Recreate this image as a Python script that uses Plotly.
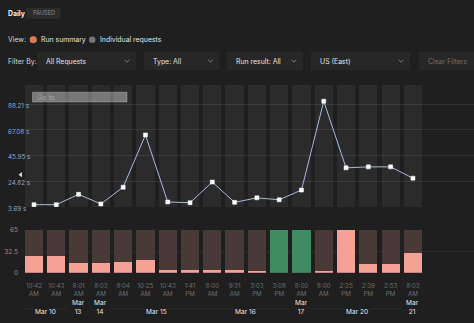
import plotly.graph_objects as go

W, H = 474, 323

# ---- data -------------------------------------------------------------
run_times = ["10:42 AM", "10:43 AM", "8:01 AM", "8:03 AM", "8:04 AM", "10:25 AM",
             "10:43 AM", "1:41 PM", "8:00 AM", "9:31 AM", "3:03 PM", "3:08 PM",
             "8:00 AM", "8:00 AM", "2:35 PM", "2:39 PM", "2:53 PM", "8:03 AM"]
run_dates = ["Mar 10", "Mar 10", "Mar 13", "Mar 14", "Mar 15", "Mar 15",
             "Mar 15", "Mar 15", "Mar 16", "Mar 16", "Mar 16", "Mar 16",
             "Mar 17", "Mar 20", "Mar 20", "Mar 20", "Mar 20", "Mar 21"]
duration_s = [5.5, 5.5, 14.0, 6.1, 19.9, 62.9, 7.7, 7.1, 24.1, 7.4, 11.1, 9.5,
              17.5, 90.6, 35.8, 36.6, 36.6, 27.3]
result_count = [25.7, 25.7, 14.8, 14.8, 15.8, 19.8, 5.0, 5.0, 5.0, 5.0, 2.5, 65,
                65, 2.5, 65, 13.3, 13.3, 29.5]
run_passed = [False] * 11 + [True, True] + [False] * 5
count_max = 65
duration_ticks = [3.69, 24.82, 45.95, 67.08, 88.21]
count_ticks = [0, 32.5, 65]

# ---- helpers ----------------------------------------------------------
def px(x):
    return x / W


def py(y):
    return 1 - y / H


FONT = "Inter, Noto Sans, sans-serif"
BG = "#1f1f1f"
idx = list(range(len(run_times)))

# x geometry: first column centred at 34px, 22.29px per column
col0, step = 34.0, 22.29
x_left_px = 22.0
xrange = [(x_left_px - col0) / step, (W - col0) / step]
dur_range = [3.3, 104.0]

fig = go.Figure()

# column backdrops in the duration panel
fig.add_trace(go.Bar(
    x=idx, y=[dur_range[1] - dur_range[0]] * len(idx), base=dur_range[0],
    width=0.82, marker=dict(color="rgba(255,255,255,0.055)", line_width=0),
    hoverinfo="skip", xaxis="x", yaxis="y", showlegend=False))

# duration line
fig.add_trace(go.Scatter(
    x=idx, y=duration_s, mode="lines+markers",
    line=dict(color="#a9bbdc", width=1),
    marker=dict(symbol="square", size=4, color="#ffffff",
                line=dict(color="#ffffff", width=0.5)),
    xaxis="x", yaxis="y", showlegend=False))

# result panel: full-height backdrop + value bars
fig.add_trace(go.Bar(
    x=idx, y=[count_max] * len(idx), width=0.82,
    marker=dict(color="#4a3a37", line_width=0),
    xaxis="x2", yaxis="y2", showlegend=False, hoverinfo="skip"))
fig.add_trace(go.Bar(
    x=idx, y=result_count, width=0.82,
    marker=dict(color=["#3f8c62" if p else "#f5a196" for p in run_passed],
                line_width=0),
    xaxis="x2", yaxis="y2", showlegend=False))

top_dom = [py(208.5), py(83)]
bot_dom = [py(275.7), py(231.7)]
xdom = [px(x_left_px), 1]

fig.update_layout(
    width=W, height=H, margin=dict(l=0, r=0, t=0, b=0),
    paper_bgcolor=BG, plot_bgcolor=BG, barmode="overlay", bargap=0,
    font=dict(family=FONT, color="#dddddd"),
    xaxis=dict(domain=xdom, range=xrange, showgrid=False, zeroline=False,
               showticklabels=False, anchor="y"),
    yaxis=dict(domain=top_dom, range=dur_range, tickvals=duration_ticks,
               showticklabels=False, gridcolor="#323232", gridwidth=1,
               zeroline=False, anchor="x"),
    xaxis2=dict(domain=xdom, range=xrange, showgrid=False, zeroline=False,
                anchor="y2", tickvals=idx,
                ticktext=[t.replace(" ", "<br>") for t in run_times],
                tickfont=dict(size=6.2, color="#6e6e6e", family=FONT),
                ticks="", ticklabelstandoff=8),
    yaxis2=dict(domain=bot_dom, range=[0, count_max], tickvals=count_ticks,
                ticktext=["0", "32.5", "65"], gridcolor="#2b2b2b",
                zeroline=False, anchor="x2", ticks="",
                tickfont=dict(size=6.5, color="#b98076", family=FONT),
                ticklabelstandoff=3),
)

shapes = []
ann = []

# duration tick labels, left aligned
for v in duration_ticks:
    ann.append(dict(x=px(6), y=v, xref="paper", yref="y", xanchor="left",
                    yanchor="middle", showarrow=False, yshift=-2,
                    text=f"{v:.2f} s",
                    font=dict(size=6.3, color="#8ea8d8", family=FONT)))

# date groups under the time labels
groups = []
for i, d in enumerate(run_dates):
    if groups and groups[-1][0] == d:
        groups[-1][1].append(i)
    else:
        groups.append((d, [i]))
for d, members in groups:
    lo, hi = members[0] - 0.5, members[-1] + 0.5
    mid = (members[0] + members[-1]) / 2
    if len(members) > 1:
        shapes.append(dict(type="line", xref="x2", yref="paper",
                           x0=lo, x1=hi, y0=py(312.5), y1=py(312.5),
                           line=dict(color="#2c2c2c", width=1)))
        label = d
    else:
        label = d.replace(" ", "<br>")
    ann.append(dict(x=mid, y=py(320.5), xref="x2", yref="paper",
                    xanchor="center", yanchor="bottom", showarrow=False,
                    text=label, bgcolor=BG, borderpad=0,
                    font=dict(size=6.6, color="#e6e6e6", family=FONT)))

# "Go to" box inside the duration panel
shapes.append(dict(type="rect", xref="paper", yref="paper",
                   x0=px(32.5), x1=px(127), y0=py(100.5), y1=py(90.5),
                   fillcolor="rgba(255,255,255,0.36)",
                   line=dict(color="rgba(255,255,255,0.45)", width=0.6)))
ann.append(dict(x=px(35), y=py(95.5), xref="paper", yref="paper",
                xanchor="left", yanchor="middle", showarrow=False, text="Go to",
                font=dict(size=7, color="#a8a8a8", family=FONT)))

# small pan arrow on the left
shapes.append(dict(type="path", xref="paper", yref="paper",
                   path=f"M {px(18.5)} {py(175)} L {px(22)} {py(172.3)} "
                        f"L {px(22)} {py(177.7)} Z",
                   fillcolor="#d8d8d8", line=dict(width=0)))

# ---- header controls --------------------------------------------------
HF = 6.9
ann.append(dict(x=px(6), y=py(9.5), xref="paper", yref="paper",
                xanchor="left", yanchor="middle", showarrow=False,
                text="<b>Daily</b>",
                font=dict(size=HF, color="#f0f0f0", family=FONT)))
shapes.append(dict(type="rect", xref="paper", yref="paper",
                   x0=px(26.5), x1=px(60.5), y0=py(15), y1=py(4),
                   fillcolor="#2c2c2c", line=dict(width=0)))
ann.append(dict(x=px(43.5), y=py(9.5), xref="paper", yref="paper",
                xanchor="center", yanchor="middle", showarrow=False,
                text="PAUSED",
                font=dict(size=5.6, color="#8c8c8c", family=FONT)))

ann.append(dict(x=px(6), y=py(36.5), xref="paper", yref="paper",
                xanchor="left", yanchor="middle", showarrow=False,
                text="View:", font=dict(size=HF, color="#d8d8d8", family=FONT)))
shapes.append(dict(type="circle", xref="paper", yref="paper",
                   x0=px(30), x1=px(36.5), y0=py(39.8), y1=py(33.3),
                   fillcolor="#e07a4f", line=dict(color="#f09a70", width=0.6)))
ann.append(dict(x=px(38.5), y=py(36.5), xref="paper", yref="paper",
                xanchor="left", yanchor="middle", showarrow=False,
                text="Run summary",
                font=dict(size=HF, color="#e4e4e4", family=FONT)))
shapes.append(dict(type="circle", xref="paper", yref="paper",
                   x0=px(89), x1=px(95.5), y0=py(39.8), y1=py(33.3),
                   fillcolor="#777777", line=dict(width=0)))
ann.append(dict(x=px(97.5), y=py(36.5), xref="paper", yref="paper",
                xanchor="left", yanchor="middle", showarrow=False,
                text="Individual requests",
                font=dict(size=HF, color="#e4e4e4", family=FONT)))

ann.append(dict(x=px(6), y=py(58.5), xref="paper", yref="paper",
                xanchor="left", yanchor="middle", showarrow=False,
                text="Filter By:",
                font=dict(size=HF, color="#d8d8d8", family=FONT)))

dropdowns = [(37.5, 136, "All Requests", True),
             (144, 219.5, "Type: All", True),
             (227, 303, "Run result: All", True),
             (311, 410, "US (East)", True),
             (419, 474, "Clear Filters", False)]
for x0, x1, label, chevron in dropdowns:
    shapes.append(dict(type="rect", xref="paper", yref="paper",
                       x0=px(x0), x1=px(x1), y0=py(68), y1=py(49),
                       fillcolor="#272727", line=dict(width=0)))
    ann.append(dict(x=px(x0 + 6.5), y=py(58.5), xref="paper", yref="paper",
                    xanchor="left", yanchor="middle", showarrow=False,
                    text=label,
                    font=dict(size=HF,
                              color="#e2e2e2" if chevron else "#6f6f6f",
                              family=FONT)))
    if chevron:
        cx = x1 - 9
        shapes.append(dict(type="path", xref="paper", yref="paper",
                           path=f"M {px(cx - 2.3)} {py(57.3)} L {px(cx)} {py(59.6)} "
                                f"L {px(cx + 2.3)} {py(57.3)}",
                           line=dict(color="#8a8a8a", width=0.9)))

fig.update_layout(shapes=shapes, annotations=ann)
fig.write_html("out.html")
